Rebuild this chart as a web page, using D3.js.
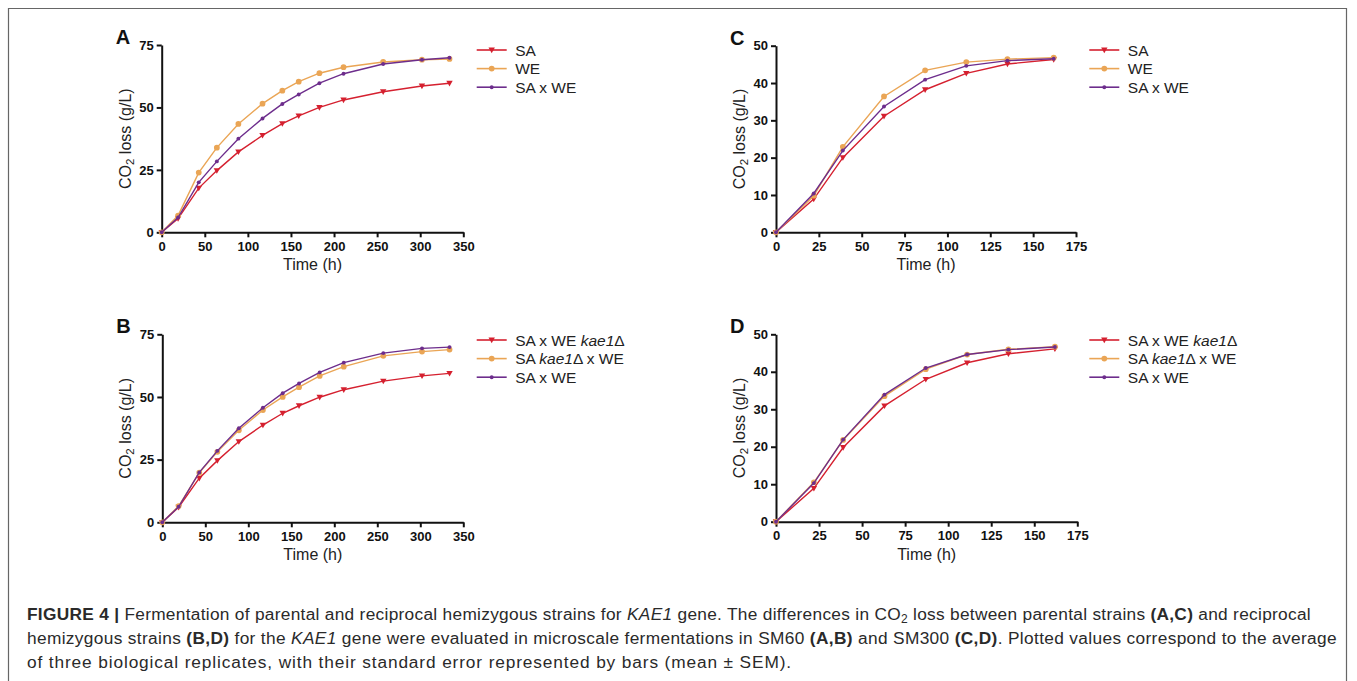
<!DOCTYPE html>
<html>
<head>
<meta charset="utf-8">
<script src="https://cdn.jsdelivr.net/npm/d3@7"></script>
<style>
  body { margin: 0; background: #fff; }
  svg { display: block; font-family: Arial, "Liberation Sans", Helvetica, sans-serif; }
</style>
</head>
<body>
<svg id="fig" width="1357" height="681"></svg>
<script>
// time points (h)
const timeAB = [0, 19, 43, 64, 89, 117, 140, 159, 183, 211, 257, 302, 334];
const timeCD = [0, 22, 39, 63, 87, 111, 135, 162];

// panel A (SM60, parental)
const saA  = [0, 5.5, 17.7, 24.7, 32.2, 38.8, 43.5, 46.6, 50.0, 53.0, 56.3, 58.6, 59.7];
const weA  = [0, 6.7, 23.9, 33.9, 43.4, 51.5, 56.7, 60.3, 63.7, 66.1, 68.2, 69.1, 69.4];
const hybA = [0, 5.9, 20.0, 28.4, 37.5, 45.6, 51.4, 55.2, 59.7, 63.5, 67.4, 69.1, 69.9];

// panel B (SM60, hemizygotes)
const hemiSaB = [0, 6.0, 17.6, 24.6, 32.2, 38.8, 43.5, 46.5, 49.9, 52.9, 56.3, 58.4, 59.4];
const hemiWeB = [0, 6.5, 19.8, 28.1, 36.7, 44.8, 50.0, 53.9, 58.4, 62.1, 66.4, 68.1, 68.9];
const hybB    = [0, 6.2, 19.9, 28.5, 37.5, 45.7, 51.5, 55.4, 59.8, 63.7, 67.5, 69.4, 69.9];

// panel C (SM300, parental)
const saC  = [0, 8.9, 20.0, 31.1, 38.2, 42.6, 45.1, 46.3];
const weC  = [0, 9.8, 22.9, 36.4, 43.4, 45.6, 46.4, 46.8];
const hybC = [0, 10.4, 21.9, 33.7, 40.9, 44.6, 46.0, 46.5];

// panel D (SM300, hemizygotes)
const hemiSaD = [0, 8.9, 19.8, 30.9, 38.0, 42.4, 44.8, 46.1];
const hemiWeD = [0, 10.5, 21.8, 33.5, 40.7, 44.6, 46.0, 46.7];
const hybD    = [0, 10.3, 21.9, 33.9, 41.0, 44.6, 45.9, 46.6];

// axis ticks
const xTicksAB = [0, 50, 100, 150, 200, 250, 300, 350];
const xTicksCD = [0, 25, 50, 75, 100, 125, 150, 175];
const yTicksAB = [0, 25, 50, 75];
const yTicksCD = [0, 10, 20, 30, 40, 50];

// legend labels, segments: [text, italic]
const namesParental = [[["SA", false]], [["WE", false]], [["SA x WE", false]]];
const namesHemi = [
  [["SA x WE ", false], ["kae1", true], ["\u0394", false]],
  [["SA ", false], ["kae1", true], ["\u0394 x WE", false]],
  [["SA x WE", false]]
];

const colors = ["#d5202f", "#eaa555", "#6d2d8c"];
const markers = ["tri", "circle", "dot"];

const svg = d3.select("#fig");

// figure frame
svg.append("path")
  .attr("d", "M8.5,690 V8.5 H1346.5 V690")
  .attr("fill", "none").attr("stroke", "#666").attr("stroke-width", 1.2);

function drawPanel(p) {
  const x = d3.scaleLinear().domain([0, p.xMax]).range([p.left, p.right]);
  const y = d3.scaleLinear().domain([0, p.yMax]).range([p.bottom, p.top]);
  const g = svg.append("g");

  // panel letter
  g.append("text").attr("x", p.left - 46).attr("y", p.top - 1)
    .attr("font-size", 20).attr("font-weight", "bold").attr("fill", "#111").text(p.letter);

  const xAxis = g.append("g").attr("transform", `translate(0,${p.bottom})`)
    .call(d3.axisBottom(x).tickValues(p.xTicks).tickSize(5).tickPadding(4).tickSizeOuter(0));
  const yAxis = g.append("g").attr("transform", `translate(${p.left},0)`)
    .call(d3.axisLeft(y).tickValues(p.yTicks).tickSize(5).tickPadding(3).tickSizeOuter(0));
  [xAxis, yAxis].forEach(a => {
    a.select(".domain").attr("stroke", "#111").attr("stroke-width", 2);
    a.selectAll(".tick line").attr("stroke", "#111").attr("stroke-width", 2);
    a.selectAll(".tick text").attr("fill", "#111").attr("font-size", 13)
      .attr("font-weight", "bold").attr("font-family", "Arial, 'Liberation Sans', sans-serif");
  });

  // axis titles
  g.append("text").attr("x", (p.left + p.right) / 2).attr("y", p.bottom + 38)
    .attr("text-anchor", "middle").attr("font-size", 16).attr("fill", "#222").text("Time (h)");
  const yl = g.append("text")
    .attr("transform", `translate(${p.left - 31},${(p.top + p.bottom) / 2}) rotate(-90)`)
    .attr("text-anchor", "middle").attr("font-size", 16).attr("fill", "#222");
  yl.append("tspan").text("CO");
  yl.append("tspan").attr("font-size", 11.5).attr("dy", 3).text("2");
  yl.append("tspan").attr("dy", -3).text(" loss (g/L)");

  const line = d3.line().x(d => x(d[0])).y(d => y(d[1]));

  p.series.forEach((vals, i) => {
    const pts = p.time.map((t, k) => [t, vals[k]]);
    g.append("path").datum(pts).attr("d", line)
      .attr("fill", "none").attr("stroke", colors[i]).attr("stroke-width", 1.4);
    g.selectAll(null).data(pts).enter().append("path")
      .attr("transform", d => `translate(${x(d[0])},${y(d[1])})`)
      .attr("d", markerPath(markers[i]))
      .attr("fill", colors[i]);
  });

  // legend
  p.names.forEach((segs, i) => {
    const ly = p.legY + i * 18.6;
    g.append("line").attr("x1", p.legX).attr("x2", p.legX + 30).attr("y1", ly).attr("y2", ly)
      .attr("stroke", colors[i]).attr("stroke-width", 1.6);
    g.append("path").attr("transform", `translate(${p.legX + 15},${ly})`)
      .attr("d", markerPath(markers[i])).attr("fill", colors[i]);
    const t = g.append("text").attr("x", p.legX + 38.5).attr("y", ly + 5.5)
      .attr("font-size", 15.5).attr("fill", "#222");
    segs.forEach(s => t.append("tspan").attr("font-style", s[1] ? "italic" : "normal").text(s[0]));
  });
}

function markerPath(kind) {
  if (kind === "tri") return "M-3.2,-2.4 L3.2,-2.4 L0,3.2 Z";
  if (kind === "circle") return d3.symbol(d3.symbolCircle, 26)();
  return d3.symbol(d3.symbolCircle, 12)();
}

drawPanel({ letter: "A", left: 161.7, right: 463.3, top: 45, bottom: 232.3, xMax: 350, yMax: 75,
  xTicks: xTicksAB, yTicks: yTicksAB, time: timeAB, series: [saA, weA, hybA],
  names: namesParental, legX: 476.7, legY: 50 });
drawPanel({ letter: "B", left: 162.3, right: 463.3, top: 334.3, bottom: 522.3, xMax: 350, yMax: 75,
  xTicks: xTicksAB, yTicks: yTicksAB, time: timeAB, series: [hemiSaB, hemiWeB, hybB],
  names: namesHemi, legX: 476.7, legY: 340 });
drawPanel({ letter: "C", left: 776, right: 1076, top: 45.7, bottom: 232.3, xMax: 175, yMax: 50,
  xTicks: xTicksCD, yTicks: yTicksCD, time: timeCD, series: [saC, weC, hybC],
  names: namesParental, legX: 1089.3, legY: 50 });
drawPanel({ letter: "D", left: 776, right: 1077.3, top: 334.3, bottom: 521.7, xMax: 175, yMax: 50,
  xTicks: xTicksCD, yTicks: yTicksCD, time: timeCD, series: [hemiSaD, hemiWeD, hybD],
  names: namesHemi, legX: 1089.3, legY: 340 });

// caption
const capLines = [
  [["FIGURE 4 | ", "b"], ["Fermentation of parental and reciprocal hemizygous strains for ", ""], ["KAE1", "i"],
   [" gene. The differences in CO", ""], ["2", "sub"], [" loss between parental strains ", "r"], ["(A,C)", "b"],
   [" and reciprocal", ""]],
  [["hemizygous strains ", ""], ["(B,D)", "b"], [" for the ", ""], ["KAE1", "i"],
   [" gene were evaluated in microscale fermentations in SM60 ", ""], ["(A,B)", "b"], [" and SM300 ", ""],
   ["(C,D)", "b"], [". Plotted values correspond to the average", ""]],
  [["of three biological replicates, with their standard error represented by bars (mean \u00b1 SEM).", ""]]
];
const capY = [620, 644, 667.5];
const capWidth = [1284, 1310, 765];
capLines.forEach((segs, i) => {
  const t = svg.append("text").attr("x", 27).attr("y", capY[i]).attr("font-size", 17.3).attr("fill", "#2a2a2a");
  segs.forEach(s => {
    const ts = t.append("tspan").text(s[0]);
    if (s[1] === "b") ts.attr("font-weight", "bold");
    if (s[1] === "i") ts.attr("font-style", "italic");
    if (s[1] === "sub") ts.attr("font-size", 12).attr("dy", 3);
    if (s[1] === "r") ts.attr("dy", -3);
  });
  // stretch spacing to the line width of the printed caption
  const n = t.text().length;
  const w = t.node().getComputedTextLength();
  t.attr("letter-spacing", (capWidth[i] - w) / n);
});
</script>
</body>
</html>
